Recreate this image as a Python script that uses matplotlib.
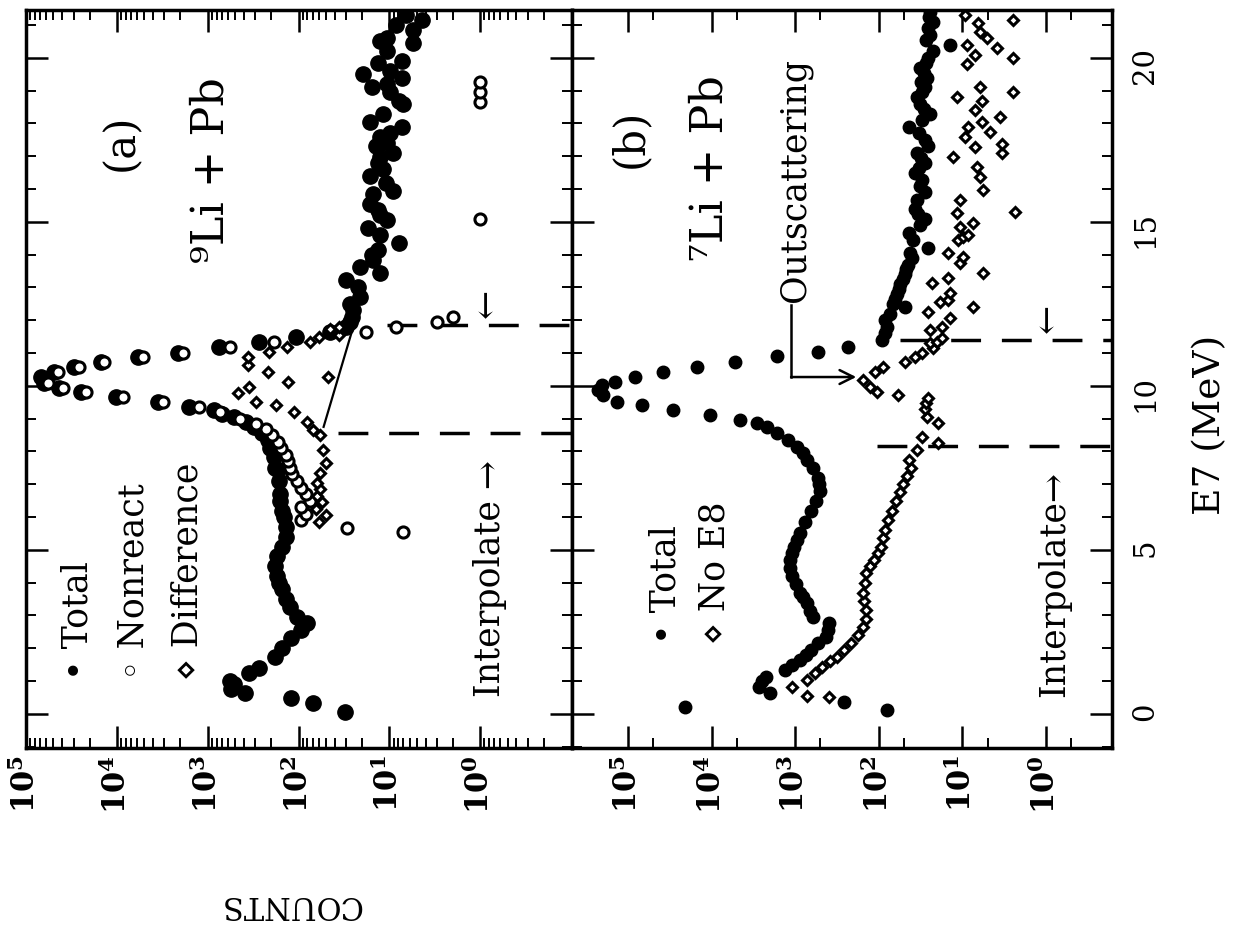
import numpy as np
import matplotlib
matplotlib.use("Agg")
import matplotlib.pyplot as plt
from matplotlib.ticker import LogLocator, MultipleLocator, NullFormatter

# ---------------- data (E7 in MeV, counts) ----------------
COUNT_TICKS = [1e5, 1e4, 1e3, 1e2, 1e1, 1e0]
COUNT_LABELS = [r"$\mathbf{10^{5}}$", r"$\mathbf{10^{4}}$", r"$\mathbf{10^{3}}$",
                r"$\mathbf{10^{2}}$", r"$\mathbf{10^{1}}$", r"$\mathbf{10^{0}}$"]
E_TICKS = [0, 5, 10, 15, 20]
E_LABELS = ["0", "5", "10", "15", "20"]

# panel (a)  9Li + Pb
a_total_E = [0.05, 0.34, 0.49, 0.64, 0.75, 0.9, 1.0, 1.25, 1.4, 1.74, 2.0, 2.3, 2.56, 2.77,
             2.96, 3.26, 3.5, 3.8, 4.0, 4.2, 4.5, 4.8, 5.1, 5.4, 5.7, 6.0, 6.2, 6.5, 6.7, 7.1,
             7.44, 7.5, 7.84, 8.1, 8.35, 8.55, 8.75, 8.9, 9.05, 9.15, 9.27, 9.36, 9.51, 9.67,
             9.8, 9.93, 10.1, 10.27, 10.43, 10.58, 10.73, 10.88, 11.0, 11.2, 11.34, 11.5, 11.65,
             11.8, 11.95, 12.1, 12.3, 12.5, 12.7, 13.0, 13.23, 13.45, 13.63, 13.84, 14.0, 14.15,
             14.35, 14.6, 14.8, 15.06, 15.2, 15.37, 15.55, 15.86, 15.95, 16.2, 16.4, 16.6, 16.8,
             16.98, 17.1, 17.3, 17.4, 17.6, 17.7, 17.9, 18.05, 18.3, 18.6, 18.7, 18.96, 19.1,
             19.2, 19.4, 19.5, 19.6, 19.85, 19.9, 20.2, 20.45, 20.5, 20.6, 20.85, 21.0, 21.16, 21.3]
a_total_C = [31, 69, 120, 390, 550, 515, 575, 355, 270, 183, 154, 120, 95, 80,
             105, 125, 138, 154, 166, 174, 183, 174, 154, 138, 138, 145, 154, 158, 158, 166,
             170, 183, 186, 204, 219, 251, 309, 380, 513, 692, 851, 1620, 3550, 10200,
             25100, 43600, 63100, 69200, 49000, 29500, 15100, 5890, 2140, 759, 275, 107, 45,
             30, 27, 26, 25, 27, 21, 22, 30, 12.6, 21, 15, 15.5, 13.5,
             7.9, 12.6, 17, 10.5, 12.6, 13.5, 16.2, 15, 9.1, 11, 16.2, 11.7, 13.5,
             12.6, 9.1, 14, 10.5, 12.6, 9.8, 7.2, 16.2, 11.7, 7, 7.9, 9.8, 15.5,
             10.5, 7.2, 19.5, 9.8, 13.5, 7.2, 10.5, 5.5, 12.6, 10.5, 5.5, 8.5, 4.4, 6.6]

a_nonr_E = [5.55, 5.67, 5.9, 6.1, 6.3, 6.5, 6.7, 6.9, 7.1, 7.3, 7.5, 7.7, 7.9, 8.1, 8.3, 8.5,
            8.7, 8.85, 9.0, 9.2, 9.36, 9.51, 9.67, 9.8, 9.93, 10.1, 10.43, 10.58, 10.73, 10.88,
            11.0, 11.2, 11.34, 11.65, 11.8, 11.95, 12.1, 15.1, 18.65, 18.96, 19.27]
a_nonr_C = [7, 29, 95, 83, 95, 74, 83, 95, 105, 117, 123, 129, 138, 155, 170, 195,
            229, 295, 437, 724, 1260, 3100, 8500, 21900, 38900, 57500, 44700, 26300, 13800, 5130,
            1870, 562, 186, 18, 8.5, 3, 2, 1, 1, 1, 1]

a_diff_E = [5.85, 6.05, 6.25, 6.45, 6.65, 6.85, 7.05, 7.35, 7.65, 8.05, 8.5, 8.66, 8.9, 9.2,
            9.42, 9.51, 9.79, 9.97, 10.12, 10.27, 10.43, 10.64, 10.88, 11.04, 11.19, 11.34,
            11.49, 11.55, 11.72, 11.8]
a_diff_C = [60, 50, 65, 55, 62, 58, 63, 58, 50, 54, 58, 69, 80, 112,
            178, 295, 468, 355, 129, 47, 219, 363, 363, 209, 135, 74,
            60, 36, 45, 36]

a_interp_E = [8.75, 11.8]
a_interp_C = [53, 25]
a_cut_E = [8.57, 11.86]
a_cut_top = [37, 10.5]

# panel (b)  7Li + Pb
b_total_E = [0.12, 0.2, 0.37, 0.64, 0.82, 1.0, 1.13, 1.34, 1.5, 1.65, 1.8, 1.95, 2.15, 2.35,
             2.55, 2.77, 2.96, 3.15, 3.38, 3.55, 3.7, 3.95, 4.2, 4.45, 4.7, 4.9, 5.1, 5.3, 5.5,
             5.85, 6.2, 6.5, 6.8, 7.0, 7.2, 7.5, 7.74, 7.95, 8.14, 8.35, 8.57, 8.75, 8.87,
             8.96, 9.12, 9.27, 9.42, 9.51, 9.73, 9.88, 10.03, 10.12, 10.27, 10.43, 10.58, 10.73,
             10.91, 11.04, 11.19, 11.4, 11.6, 11.8, 12.0, 12.2, 12.4, 12.5, 12.65, 12.8, 12.95,
             13.1, 13.25, 13.4, 13.55, 13.7, 13.9, 14.05, 14.2, 14.45, 14.66, 14.9, 15.1, 15.25,
             15.4, 15.67, 15.9, 16.1, 16.28, 16.5, 16.65, 16.8, 16.95, 17.1, 17.3, 17.5, 17.7,
             17.9, 18.1, 18.3, 18.45, 18.6, 18.8, 18.95, 19.1, 19.25, 19.4, 19.55, 19.7, 19.85,
             20.0, 20.2, 20.4, 20.55, 20.7, 20.9, 21.1, 21.25, 21.4]
b_total_C = [80, 20900, 262, 2000, 2700, 2500, 2240, 1320, 1100, 870, 740, 646, 537, 427,
             407, 398, 617, 661, 724, 813, 870, 977, 1100, 1150, 1150, 1100, 1020, 955, 870,
             759, 646, 562, 501, 525, 537, 617, 724, 813, 955, 1230, 1660, 2190, 2880,
             4570, 10500, 28800, 67600, 135000, 200000, 229000, 204000, 145000, 83200, 38000, 14800, 5250,
             1660, 537, 234, 91, 85, 80, 85, 74, 49, 68, 64, 60, 58,
             56, 52, 49, 47, 45, 40, 42, 26, 39, 43, 32, 28, 34,
             37, 35, 28, 32, 30, 37, 33, 28, 31, 35, 26, 28, 33,
             43, 30, 24.5, 29, 32, 35, 30, 28, 31, 26.5, 29, 32, 27,
             26, 22.5, 14, 27, 24.5, 26, 22.5, 25, 24.5]

b_noe8_E = [0.52, 0.55, 0.82, 1.04, 1.25, 1.43, 1.6, 1.74, 1.95, 2.16, 2.4, 2.65, 2.9, 3.17,
            3.45, 3.7, 4.0, 4.3, 4.5, 4.7, 4.9, 5.1, 5.35, 5.6, 5.9, 6.2, 6.5, 6.75, 7.0, 7.25,
            7.5, 7.74, 8.05, 8.26, 8.45, 8.87, 9.05, 9.3, 9.48, 9.63, 9.73, 9.82, 9.97, 10.18,
            10.43, 10.58, 10.73, 10.88, 11.0, 11.15, 11.31, 11.34, 11.46, 11.7, 11.8, 12.07,
            12.26, 12.4, 12.56, 12.62, 12.84, 13.14, 13.3, 13.45, 13.75, 13.93, 14.05, 14.45,
            14.54, 14.6, 14.85, 14.97, 15.27, 15.3, 15.67, 15.98, 16.37, 16.68, 16.98, 17.1,
            17.29, 17.38, 17.6, 17.75, 17.9, 18.05, 18.2, 18.4, 18.7, 18.8, 18.96, 19.1, 19.8,
            20.0, 20.1, 20.3, 20.4, 20.6, 20.8, 21.05, 21.15, 21.3]
b_noe8_C = [398, 724, 1100, 724, 575, 479, 380, 316, 262, 214, 178, 155, 141, 141,
            151, 155, 148, 141, 128, 115, 102, 93, 89, 85, 78, 69, 62, 56, 51, 46,
            41, 43, 35, 19.5, 30, 19.5, 26.5, 28, 27.5, 26, 59, 105, 128, 155,
            112, 89, 49, 37, 30, 22.5, 24.5, 20, 17.5, 24.5, 17.5, 14,
            26, 7.5, 18.6, 15, 14, 23, 15, 5.7, 10.7, 9.8, 15, 11.3,
            9.8, 8.6, 10.7, 7.5, 11.6, 2.35, 10.7, 5.7, 6.2, 6.7, 13, 3.4,
            7.1, 3.4, 9.3, 4.7, 8.6, 5.8, 3.5, 7.1, 5.8, 11.6, 2.5, 6.2, 8.9,
            2.5, 7.1, 3.9, 8.9, 5.1, 6.2, 6.5, 2.5, 9.3]

b_cut_E = [8.17, 11.4]
b_cut_top = [105, 56]
b_out_E = [12.47, 10.27]
b_out_C = [1120, 186]

# ---------------- figure ----------------
W, H = 1245, 951
FAM = ["DejaVu Serif", "DejaVu Sans"]
plt.rcParams["font.family"] = FAM
plt.rcParams["mathtext.fontset"] = "dejavuserif"
fig = plt.figure(figsize=(W / 100, H / 100), dpi=100)


def fx(px):
    return px / W


def fy(py):
    return 1 - py / H


L_a, R_a, R_b, T, B = 26, 572, 1112, 10, 748
ax_a = fig.add_axes([fx(L_a), fy(B), (R_a - L_a) / W, (B - T) / H])
ax_b = fig.add_axes([fx(R_a), fy(B), (R_b - R_a) / W, (B - T) / H])

for ax, xlim, subs in ((ax_a, (10 ** 4.99, 10 ** -1.01), np.arange(2, 10)),
                       (ax_b, (10 ** 5.67, 10 ** -0.79), (5.0,))):
    ax.set_xscale("log")
    ax.set_xlim(*xlim)
    ax.set_ylim(-1.04, 21.46)
    ax.set_xticks(COUNT_TICKS, labels=COUNT_LABELS, fontsize=22, rotation=90)
    ax.xaxis.set_minor_locator(LogLocator(base=10, subs=subs, numticks=50))
    ax.xaxis.set_minor_formatter(NullFormatter())
    ax.set_yticks(E_TICKS, labels=E_LABELS, fontsize=21, fontfamily=FAM)
    ax.yaxis.set_minor_locator(MultipleLocator(1))
    ax.tick_params(axis="x", which="both", top=True, bottom=True, direction="in",
                   labeltop=False, labelbottom=True, pad=5)
    ax.tick_params(axis="y", which="both", left=True, right=True, direction="in",
                   labelleft=False)
    ax.tick_params(which="major", length=16, width=1.8)
    ax.tick_params(which="minor", length=7, width=1.4)
    for s in ax.spines.values():
        s.set_linewidth(2.5)

ax_a.tick_params(axis="y", labelright=False)
ax_b.tick_params(axis="y", labelright=True, labelrotation=90, pad=14)

# ---- panel (a) data
ax_a.plot(a_total_C, a_total_E, "o", color="black", ms=11, zorder=3)
ax_a.plot(a_nonr_C, a_nonr_E, "o", mfc="white", mec="black", ms=8, mew=2.2, zorder=4)
ax_a.plot(a_diff_C, a_diff_E, "D", mfc="white", mec="black", ms=5, mew=2.2, zorder=4)
ax_a.plot(a_interp_C, a_interp_E, "-", color="black", lw=1.6, zorder=2)
for e, ctop in zip(a_cut_E, a_cut_top):
    ax_a.plot([ctop, 10 ** -1.01], [e, e], color="black", lw=2.5, dashes=(8.6, 6.0))

# ---- panel (b) data
ax_b.plot(b_total_C, b_total_E, "o", color="black", ms=9, zorder=3)
ax_b.plot(b_noe8_C, b_noe8_E, "D", mfc="white", mec="black", ms=5, mew=2.2, zorder=4)
for e, ctop in zip(b_cut_E, b_cut_top):
    ax_b.plot([ctop, 10 ** -0.79], [e, e], color="black", lw=2.5, dashes=(8.6, 6.0))
ax_b.plot([b_out_C[0], b_out_C[0]], b_out_E, color="black", lw=1.8)
ax_b.annotate("", xy=(b_out_C[1], b_out_E[1]), xytext=(b_out_C[0], b_out_E[1]),
              arrowprops=dict(arrowstyle="->", lw=1.8, color="black",
                              mutation_scale=25, shrinkA=0, shrinkB=0))

# ---------------- texts ----------------
def vtext(x, y, s, size, anchor_start=True, **kw):
    if anchor_start:
        fig.text(fx(x), fy(y), s, rotation=90, rotation_mode="anchor", ha="left",
                 va="center", fontsize=size, **kw)
    else:
        fig.text(fx(x), fy(y), s, rotation=90, ha="center", va="center", fontsize=size, **kw)


vtext(121, 142, "(a)", 30, anchor_start=False)
vtext(211, 170, "⁹Li + Pb", 32, anchor_start=False)
vtext(77, 680, "• Total", 25)
vtext(133, 680, "◦ Nonreact", 25)
vtext(187, 680, "⋄ Difference", 25)
vtext(490, 697, "Interpolate →", 25)
vtext(487, 303, "←", 25, anchor_start=False)

vtext(630, 138, "(b)", 30, anchor_start=False)
vtext(710, 168, "⁷Li + Pb", 32, anchor_start=False)
vtext(665, 644, "• Total", 25)
vtext(714, 644, "⋄ No E8", 25)
vtext(1054, 697, "Interpolate→", 25)
vtext(1048, 318, "←", 25, anchor_start=False)
vtext(795, 302, "Outscattering", 25)

fig.text(fx(1210), fy(425), "E7 (MeV)", rotation=90, ha="center", va="center", fontsize=27)
fig.text(fx(290), fy(905), "COUNTS", rotation=180, ha="center", va="center", fontsize=22)

fig.savefig("out.png", dpi=100, facecolor="white")
